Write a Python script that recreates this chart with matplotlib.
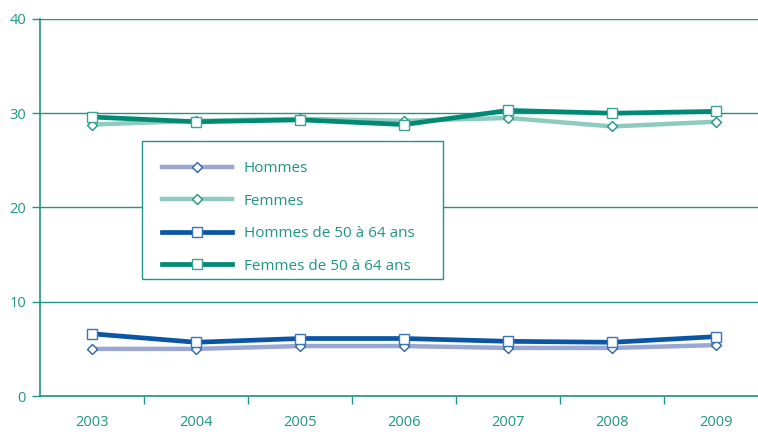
"""Part des salariés - hommes / femmes, 2003-2009."""

import matplotlib.pyplot as plt
import numpy as np
from matplotlib.patches import Rectangle

years = ["2003", "2004", "2005", "2006", "2007", "2008", "2009"]
hommes = [5.0, 5.0, 5.3, 5.3, 5.1, 5.1, 5.4]
femmes = [28.8, 29.2, 29.4, 29.2, 29.5, 28.6, 29.1]
hommes_50_64 = [6.6, 5.7, 6.1, 6.1, 5.8, 5.7, 6.3]
femmes_50_64 = [29.6, 29.1, 29.3, 28.8, 30.3, 30.0, 30.2]

TEAL = "#1f9585"
plt.rcParams["font.family"] = ["Open Sans", "DejaVu Sans"]

fig = plt.figure(figsize=(7.58, 4.32), dpi=100)
axis = fig.add_axes([40 / 758, 36 / 432, 718 / 758, 377 / 432])

x = np.arange(len(years))

# Line plots
axis.plot(x, hommes, color="#9aa6d4", lw=3.2, marker="D", markersize=5.5,
          markerfacecolor="white", markeredgecolor="#2a62ad", markeredgewidth=1,
          label="Hommes", zorder=3)
axis.plot(x, femmes, color="#8ecbbf", lw=3.2, marker="D", markersize=5.5,
          markerfacecolor="white", markeredgecolor="#1f9585", markeredgewidth=1,
          label="Femmes", zorder=3)
axis.plot(x, hommes_50_64, color="#0a56a6", lw=3.4, marker="s", markersize=7,
          markerfacecolor="white", markeredgecolor="#3a74b8", markeredgewidth=1,
          label="Hommes de 50 à 64 ans", zorder=4)
axis.plot(x, femmes_50_64, color="#008a76", lw=3.4, marker="s", markersize=7,
          markerfacecolor="white", markeredgecolor="#3aa494", markeredgewidth=1,
          label="Femmes de 50 à 64 ans", zorder=4)

# Axes
axis.set_xlim(-0.5, 6.4)
axis.set_ylim(0, 40)
axis.set_yticks([0, 10, 20, 30, 40])
axis.set_xticks(x)
axis.set_xticklabels(years)
axis.set_xticks(np.arange(0.5, 6.5, 1), minor=True)
axis.tick_params(axis="x", which="major", length=0, pad=14, labelsize=10.5,
                 labelcolor=TEAL)
axis.tick_params(axis="x", which="minor", length=6, width=1, color=TEAL,
                 direction="out")
axis.tick_params(axis="y", length=6, width=1, color=TEAL, pad=4,
                 labelsize=10.5, labelcolor=TEAL)
axis.grid(axis="y", color=TEAL, lw=1)
axis.set_axisbelow(True)
for side in ["top", "right"]:
    axis.spines[side].set_visible(False)
for side in ["left", "bottom"]:
    axis.spines[side].set_color(TEAL)
    axis.spines[side].set_linewidth(1.2)

# Legend box
axis.add_patch(Rectangle((0.142, 0.310), 0.419, 0.366, transform=axis.transAxes,
                         facecolor="white", edgecolor=TEAL, lw=1, zorder=5))
leg = axis.legend(loc="upper left", bbox_to_anchor=(0.142, 0.676),
                  borderaxespad=0, frameon=False, handlelength=4.6,
                  handletextpad=0.75, labelspacing=1.15, borderpad=1.3,
                  fontsize=11, labelcolor=TEAL)
leg.set_zorder(6)

fig.savefig("out.png", dpi=100)
